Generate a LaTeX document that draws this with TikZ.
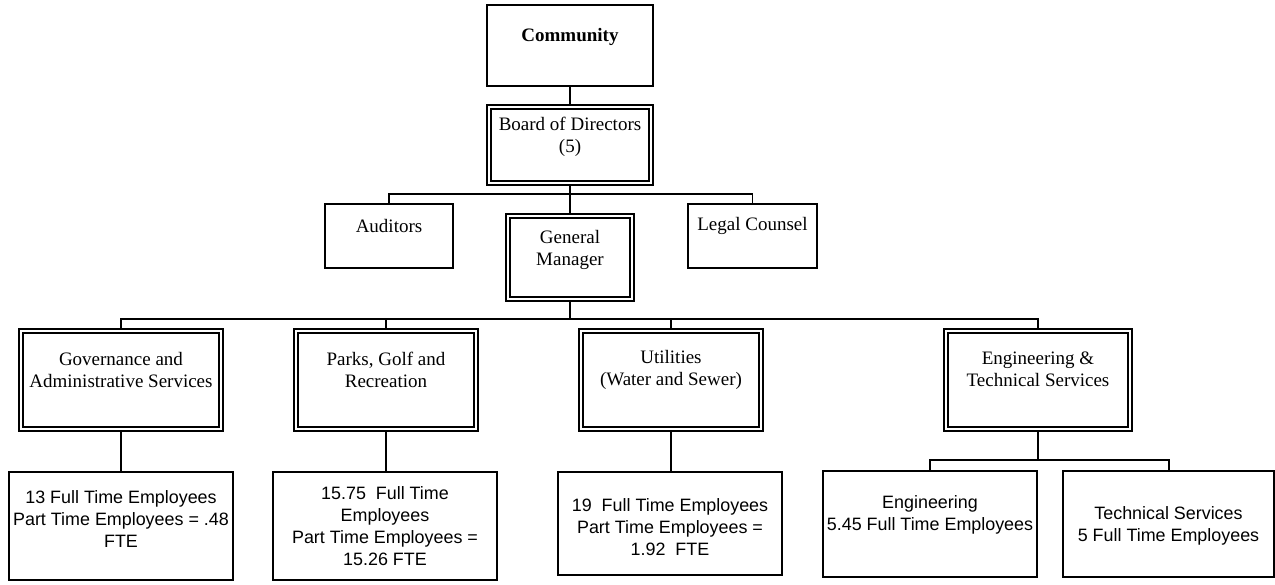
\documentclass[tikz,border=0pt]{standalone}
\usepackage{fontspec}
\setmainfont{Liberation Serif}
\newfontfamily\arialf{Liberation Sans}
\begin{document}
\begin{tikzpicture}[x=1pt,y=-1pt,
  box/.style={draw, line width=1.2pt, inner sep=0pt, rectangle},
  dbox/.style={draw, line width=1.1pt, inner sep=0pt, rectangle,
    path picture={\draw[line width=1.8pt]
      ([shift={(4.3pt,-4.3pt)}]path picture bounding box.north west) rectangle
      ([shift={(-4.3pt,4.3pt)}]path picture bounding box.south east);}},
  lbl/.style={align=center, inner sep=0pt, font=\fontsize{19}{22}\selectfont},
  albl/.style={align=center, inner sep=0pt, font=\arialf\fontsize{17.9}{22}\selectfont},
  conn/.style={line width=1.2pt}]
\useasboundingbox (0,0) rectangle (1275,584);
% boxes
\node[box, minimum width=166pt, minimum height=81pt] (com) at (570,45.5) {};
\node[dbox, minimum width=166pt, minimum height=80pt] (bod) at (570,145) {};
\node[box, minimum width=128pt, minimum height=64pt] (aud) at (389,236) {};
\node[box, minimum width=129pt, minimum height=64pt] (leg) at (752.5,236) {};
\node[dbox, minimum width=128pt, minimum height=87pt] (gm) at (570,257.5) {};
\node[dbox, minimum width=204pt, minimum height=102pt] (gov) at (121,380) {};
\node[dbox, minimum width=184pt, minimum height=102pt] (prk) at (386,380) {};
\node[dbox, minimum width=184pt, minimum height=102pt] (utl) at (671,380) {};
\node[dbox, minimum width=188pt, minimum height=102pt] (eng) at (1038,380) {};
\node[box, minimum width=224pt, minimum height=108pt] (gove) at (121,526) {};
\node[box, minimum width=224pt, minimum height=108pt] (prke) at (385,526) {};
\node[box, minimum width=224pt, minimum height=103pt] (utle) at (670,523.5) {};
\node[box, minimum width=214pt, minimum height=106pt] (enge) at (930,524) {};
\node[box, minimum width=211pt, minimum height=106pt] (tech) at (1168.5,524) {};
% labels
\node[lbl, font=\fontsize{19}{22}\selectfont\bfseries] (tcom) at (570,37) {Community};
\node[lbl] (tbod) at (570,137) {Board of Directors\\(5)};
\node[lbl] (taud) at (389,225.5) {Auditors};
\node[lbl] (tleg) at (752.5,225.5) {Legal Counsel};
\node[lbl] (tgm) at (570,250) {General\\Manager};
\node[lbl] (tgov) at (121,369.5) {Governance and\\Administrative Services};
\node[lbl] (tprk) at (386,369.5) {Parks, Golf and\\Recreation};
\node[lbl] (tutl) at (671,369.5) {Utilities\\(Water and Sewer)};
\node[lbl] (teng) at (1038,369.5) {Engineering \&\\Technical Services};
\node[albl] (tgove) at (121,519) {13 Full Time Employees\\Part Time Employees = .48\\FTE};
\node[albl] (tprke) at (385,526) {15.75\ \ Full Time\\Employees\\Part Time Employees =\\15.26 FTE};
\node[albl] (tutle) at (670,527) {19\ \ Full Time Employees\\Part Time Employees =\\1.92\ \ FTE};
\node[albl] (tenge) at (930,515) {Engineering\\5.45 Full Time Employees};
\node[albl] (ttech) at (1168.5,526) {Technical Services\\5 Full Time Employees};
% junctions
\coordinate (j1) at (570,194);
\coordinate (j2) at (570,319);
\coordinate (j3) at (1038,460);
\coordinate (j4) at (1169,460);
% connectors
\draw[conn] (com.south) -- (bod.north);
\draw[conn] (bod.south) -- (gm.north);
\draw[conn] (aud.north) |- (j1) -| (leg.north);
\draw[conn] (gm.south) -- (j2);
\draw[conn] (gov.north) |- (j2) -| (eng.north);
\draw[conn] (prk.north) -- (prk.north |- j2);
\draw[conn] (utl.north) -- (utl.north |- j2);
\draw[conn] (gov.south) -- (gove.north);
\draw[conn] (prk.south) -- (prk.south |- prke.north);
\draw[conn] (utl.south) -- (utl.south |- utle.north);
\draw[conn] (eng.south) -- (j3);
\draw[conn] (enge.north) |- (j4) -- (j4 |- tech.north);
\end{tikzpicture}
\end{document}
